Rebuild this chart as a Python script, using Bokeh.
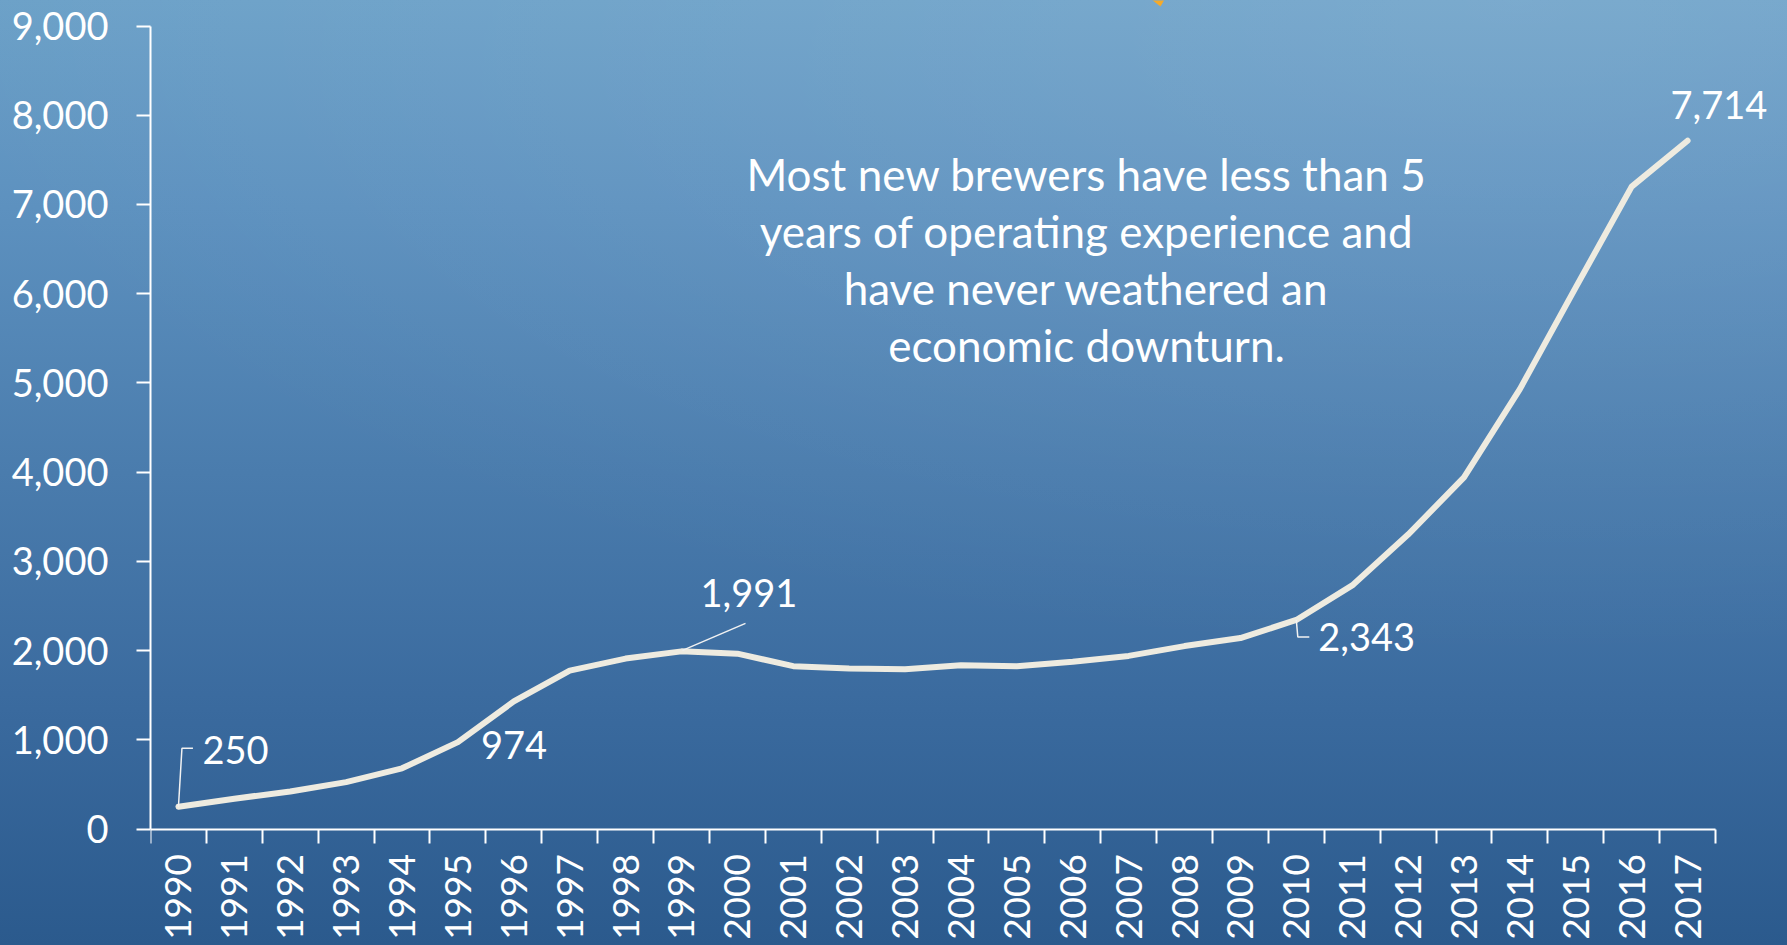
import math
from bokeh.plotting import figure
from bokeh.models import Range1d, FixedTicker, NumeralTickFormatter, Label, PolyAnnotation
from bokeh.embed import file_html
from bokeh.resources import INLINE

# ---------------- data ----------------
years = list(range(1990, 2018))
brewers = [250, 340, 420, 525, 680, 974, 1430, 1775, 1910, 1991,
           1965, 1825, 1800, 1790, 1835, 1825, 1875, 1940, 2050, 2140,
           2343, 2730, 3300, 3940, 4930, 6070, 7200, 7714]
y_ticks = list(range(0, 10000, 1000))
labeled_years = [1990, 1995, 1999, 2010, 2017]
annotation_lines = ["Most new brewers have less than 5",
                    "years of operating experience and",
                    "have never weathered an",
                    "economic downturn."]

# ---------------- layout ----------------
W, H = 1787, 945
LEFT = 150                     # frame starts right of the y axis panel
AX_RIGHT_PX = 1715             # where the x axis ends
AX_TOP_PX, AX_BOT_PX = 25.5, 828.5   # pixel rows of 9,000 and 0
xa0, xa1 = years[0] - 0.5, years[-1] + 0.5
ya0, ya1 = 0, 9000
px_x = (AX_RIGHT_PX - LEFT) / (xa1 - xa0)
px_y = (AX_BOT_PX - AX_TOP_PX) / (ya1 - ya0)
# frame spans the whole canvas right of the y axis (so labels are not clipped)
x_lo, x_hi = xa0, xa0 + (W - LEFT) / px_x
y_lo, y_hi = ya0 - (H - AX_BOT_PX) / px_y, ya1 + AX_TOP_PX / px_y


def sx_to_x(px):
    return xa0 + (px - LEFT) / px_x


def sy_to_y(py):
    return ya1 - (py - AX_TOP_PX) / px_y


FONT = "Lato"
WHITE = "#FFFFFF"
LINE = "#EEEBE0"

p = figure(width=W, height=H, output_backend="svg", toolbar_location=None,
           x_range=Range1d(x_lo, x_hi), y_range=Range1d(y_lo, y_hi),
           min_border_left=LEFT, min_border_right=0,
           min_border_top=0, min_border_bottom=0)
p.background_fill_alpha = 0
p.border_fill_alpha = 0
p.outline_line_color = None
p.xgrid.visible = False
p.ygrid.visible = False
p.styles = {
    "background-image": (
        "radial-gradient(ellipse 90% 70% at 85% 0%, rgba(255,255,255,0.10), rgba(255,255,255,0) 100%),"
        "linear-gradient(to bottom, #6ca1c8 0%, #5d91bf 22%, #4a7cad 50%, #3a6a9e 75%, #2b5a8d 100%)"
    )
}

# y axis
ya = p.yaxis[0]
ya.ticker = FixedTicker(ticks=y_ticks)
ya.bounds = (ya0, ya1)
ya.formatter = NumeralTickFormatter(format="0,0")
ya.axis_line_color = WHITE
ya.axis_line_width = 2
ya.major_tick_line_color = WHITE
ya.major_tick_line_width = 2
ya.major_tick_out = 14
ya.major_tick_in = 0
ya.minor_tick_line_color = None
ya.major_label_standoff = 28
ya.major_label_text_font = FONT
ya.major_label_text_font_size = "38px"
ya.major_label_text_color = WHITE

# x axis: labels at year centres, tick marks between years; drawn at y=0
xa = p.xaxis[0]
xa.fixed_location = 0
xa.bounds = (xa0, xa1)
xa.ticker = FixedTicker(ticks=years, minor_ticks=[y - 0.5 for y in years] + [years[-1] + 0.5])
xa.axis_line_color = WHITE
xa.axis_line_width = 2
xa.major_tick_line_color = None
xa.major_tick_out = 0
xa.major_tick_in = 0
xa.minor_tick_line_color = WHITE
xa.minor_tick_line_width = 2
xa.minor_tick_out = 14
xa.minor_tick_in = 0
xa.major_label_orientation = math.pi / 2
xa.major_label_standoff = 11
xa.major_label_text_font = FONT
xa.major_label_text_font_size = "37px"
xa.major_label_text_color = WHITE

# main line
p.line(years, brewers, line_color=LINE, line_width=6, line_cap="round", line_join="round")

# value labels: (dx, dy) offsets in px of the text start/baseline from the point (screen, +down)
BASE_FIX = -14
label_off = {1990: (24, -43), 1995: (23, 17), 1999: (19, -44), 2010: (22, 31), 2017: (-17, -22)}
# leader lines in px offsets from the point
leaders = {1990: [(0, 0), (3.5, -58.5), (14.5, -58.5)],
           1999: [(1, -1), (64, -28)],
           2010: [(0, 0), (1.5, 17), (13, 17)]}

for yr in labeled_years:
    v = brewers[years.index(yr)]
    dx, dy = label_off[yr]
    p.add_layout(Label(x=yr, y=v, x_offset=dx, y_offset=-(dy + BASE_FIX), text=f"{v:,}",
                       text_font=FONT, text_font_size="38px", text_color=WHITE,
                       text_align="left", text_baseline="alphabetic"))
    if yr in leaders:
        xs = [yr + a / px_x for a, b in leaders[yr]]
        ys = [v - b / px_y for a, b in leaders[yr]]
        p.line(xs, ys, line_color="#F2F2F2", line_width=1.5)

# annotation text
cx = sx_to_x(1086)
for i, t in enumerate(annotation_lines):
    p.add_layout(Label(x=cx, y=sy_to_y(173 + 57 * i), text=t,
                       text_font=FONT, text_font_size="44px", text_color=WHITE,
                       text_align="center", text_baseline="alphabetic"))

# small orange arrow tip cut off at the top edge
p.add_layout(PolyAnnotation(xs=[sx_to_x(1151), sx_to_x(1164), sx_to_x(1160)],
                            ys=[sy_to_y(-1), sy_to_y(-1), sy_to_y(6)],
                            fill_color="#F5AA2A", fill_alpha=1, line_color=None))

open("out.html", "w").write(file_html(p, INLINE))
